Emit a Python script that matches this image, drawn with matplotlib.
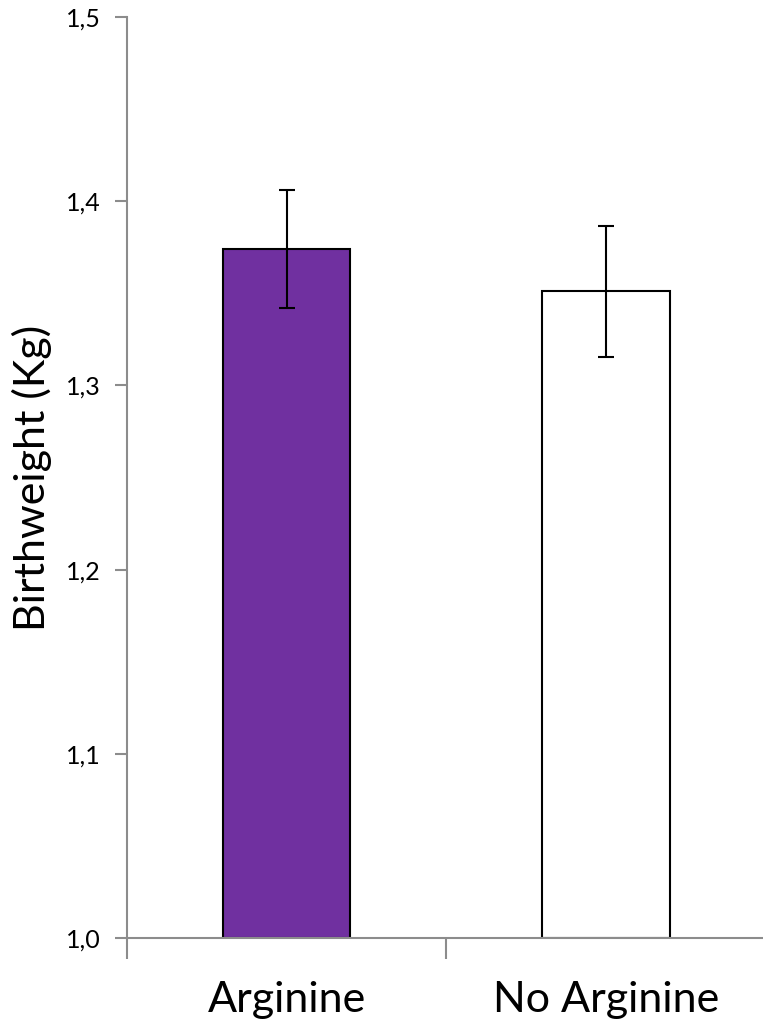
import matplotlib.pyplot as plt

plt.rcParams["font.family"] = ["Lato", "DejaVu Sans"]

groups = ["Arginine", "No Arginine"]
means = [1.374, 1.351]
errors = [0.032, 0.0355]
colors = ["#7030a0", "#ffffff"]

y_ticks = [1.0, 1.1, 1.2, 1.3, 1.4, 1.5]
y_tick_labels = ["1,0", "1,1", "1,2", "1,3", "1,4", "1,5"]

fig = plt.figure(figsize=(7.63, 10.25), dpi=100)
ax = fig.add_axes([127 / 763, 1 - 938 / 1025, 1 - 127 / 763 + 0.003, (938 - 17) / 1025])

x = range(len(groups))
bottom = 1.0
ax.bar(x, [m - bottom for m in means], bottom=bottom, width=0.4,
       color=colors, edgecolor="black", linewidth=1.5, zorder=2)
ax.errorbar(x, means, yerr=errors, fmt="none", ecolor="black",
            elinewidth=1.5, capsize=6, capthick=1.5, zorder=3)

ax.set_xlim(-0.5, 1.5)
ax.set_ylim(1.0, 1.5)
ax.set_yticks(y_ticks)
ax.set_yticklabels(y_tick_labels, fontsize=18)
ax.set_xticks([-0.5, 0.5, 1.5], minor=False)
ax.set_xticklabels([])
ax.set_xticks(list(x), minor=True)
ax.set_xticklabels(groups, minor=True, fontsize=31)
ax.tick_params(axis="x", which="minor", length=0, pad=31)
ax.tick_params(axis="x", which="major", length=15, width=1.5, color="#8c8c8c")
ax.tick_params(axis="y", length=9, width=1.5, color="#8c8c8c", pad=10)

for side in ["top", "right"]:
    ax.spines[side].set_visible(False)
for side in ["left", "bottom"]:
    ax.spines[side].set_color("#8c8c8c")
    ax.spines[side].set_linewidth(1.5)

ax.set_ylabel("Birthweight (Kg)", fontsize=31, labelpad=10)

fig.savefig("out.png", dpi=100)
